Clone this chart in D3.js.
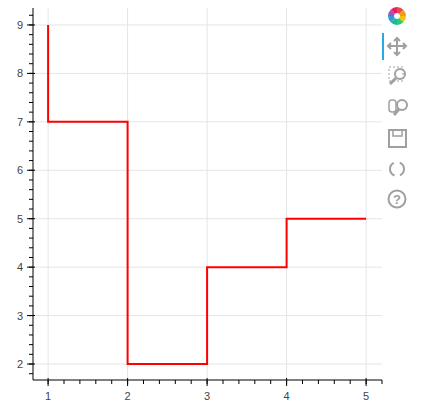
<!DOCTYPE html>
<html><head><meta charset="utf-8">
<script src="https://cdn.jsdelivr.net/npm/d3@7"></script>
<style>body{margin:0;background:#fff}</style></head>
<body><svg id="c" width="429" height="413"></svg>
<script>
const xs=[1,2,3,4,5];
const ys=[9,7,2,4,5];
const xTicks=[1,2,3,4,5];
const yTicks=[2,3,4,5,6,7,8,9];
const svg=d3.select("#c");
const L=33,R=382,T=8,B=380;
const x=d3.scale=d3.scaleLinear().domain([0.81,5.2]).range([L,R]);
const y=d3.scaleLinear().domain([1.67,9.35]).range([B,T]);
const g=svg.append("g");
// grid
xTicks.forEach(t=>g.append("line").attr("x1",x(t)).attr("x2",x(t)).attr("y1",T).attr("y2",B).attr("stroke","#e5e5e5"));
yTicks.forEach(t=>g.append("line").attr("x1",L).attr("x2",R).attr("y1",y(t)).attr("y2",y(t)).attr("stroke","#e5e5e5"));
// line
const data=xs.map((v,i)=>[v,ys[i]]);
g.append("path").attr("d",d3.line().x(d=>x(d[0])).y(d=>y(d[1])).curve(d3.curveStepBefore)(data))
 .attr("fill","none").attr("stroke","red").attr("stroke-width",2);
// axes
const ax=g.append("g").attr("transform",`translate(0,${B})`);
ax.append("line").attr("x1",L).attr("x2",R).attr("stroke","#000");
const xminor=d3.range(0.8,5.21,0.2).filter(v=>v>=0.81&&v<=5.2);
xminor.forEach(v=>ax.append("line").attr("x1",x(v)).attr("x2",x(v)).attr("y1",0).attr("y2",4).attr("stroke","#000"));
xTicks.forEach(t=>{ax.append("line").attr("x1",x(t)).attr("x2",x(t)).attr("y1",-2).attr("y2",6).attr("stroke","#000");
 ax.append("text").attr("x",x(t)).attr("y",20).attr("text-anchor","middle").attr("font-family","Helvetica,Arial,sans-serif").attr("font-size",11).attr("fill","#444").text(t);});
const ay=g.append("g").attr("transform",`translate(${L},0)`);
ay.append("line").attr("y1",T).attr("y2",B).attr("stroke","#000");
d3.range(1.8,9.36,0.2).filter(v=>v>=1.67).forEach(v=>ay.append("line").attr("x1",-4).attr("x2",0).attr("y1",y(v)).attr("y2",y(v)).attr("stroke","#000"));
yTicks.forEach(t=>{ay.append("line").attr("x1",-6).attr("x2",2).attr("y1",y(t)).attr("y2",y(t)).attr("stroke","#000");
 ay.append("text").attr("x",-10).attr("y",y(t)+4).attr("text-anchor","end").attr("font-family","Helvetica,Arial,sans-serif").attr("font-size",11).attr("fill","#444").text(t);});
// toolbar
const tb=svg.append("g");
const cols=["#e74c3c","#f39c12","#f1c40f","#2ecc71","#1abc9c","#3498db","#9b59b6","#e91e63"];
cols.forEach((c,i)=>{const a0=i*Math.PI/4;tb.append("path").attr("transform","translate(397,16)")
 .attr("d",d3.arc().innerRadius(3).outerRadius(9).startAngle(a0).endAngle(a0+Math.PI/4)()).attr("fill",c);});
tb.append("rect").attr("x",382).attr("y",33).attr("width",2).attr("height",27).attr("fill","#26aae1");
const gr="#a0a0a0";
// pan
tb.append("path").attr("d","M397,38 L397,55 M388,46 L406,46 M394,41 L397,38 L400,41 M394,52 L397,55 L400,52 M391,43 L388,46 L391,49 M403,43 L406,46 L403,49").attr("stroke",gr).attr("stroke-width",2).attr("fill","none");
// box zoom
tb.append("rect").attr("x",389).attr("y",67).attr("width",14).attr("height",14).attr("fill","none").attr("stroke",gr).attr("stroke-dasharray","2,2");
tb.append("circle").attr("cx",400).attr("cy",74).attr("r",5).attr("fill","none").attr("stroke",gr).attr("stroke-width",2);
tb.append("line").attr("x1",396).attr("y1",78).attr("x2",390).attr("y2",84).attr("stroke",gr).attr("stroke-width",3);
// wheel zoom
tb.append("rect").attr("x",389).attr("y",100).attr("width",7).attr("height",12).attr("rx",3).attr("fill","none").attr("stroke",gr).attr("stroke-width",1.5);
tb.append("circle").attr("cx",402).attr("cy",105).attr("r",5).attr("fill","none").attr("stroke",gr).attr("stroke-width",2);
tb.append("line").attr("x1",399).attr("y1",109).attr("x2",394).attr("y2",115).attr("stroke",gr).attr("stroke-width",3);
// save
tb.append("rect").attr("x",389).attr("y",130).attr("width",17).attr("height",17).attr("fill","none").attr("stroke",gr).attr("stroke-width",2);
tb.append("rect").attr("x",393).attr("y",130).attr("width",9).attr("height",6).attr("fill","none").attr("stroke",gr).attr("stroke-width",1.5);
// reset
tb.append("path").attr("d",d3.arc().innerRadius(6).outerRadius(8).startAngle(0.4).endAngle(2.7)()).attr("transform","translate(397,169)").attr("fill",gr);
tb.append("path").attr("d",d3.arc().innerRadius(6).outerRadius(8).startAngle(3.5).endAngle(5.8)()).attr("transform","translate(397,169)").attr("fill",gr);
// help
tb.append("circle").attr("cx",397).attr("cy",199).attr("r",8.5).attr("fill","none").attr("stroke",gr).attr("stroke-width",2);
tb.append("text").attr("x",397).attr("y",204).attr("text-anchor","middle").attr("font-family","Arial").attr("font-weight","bold").attr("font-size",13).attr("fill",gr).text("?");
</script></body></html>
